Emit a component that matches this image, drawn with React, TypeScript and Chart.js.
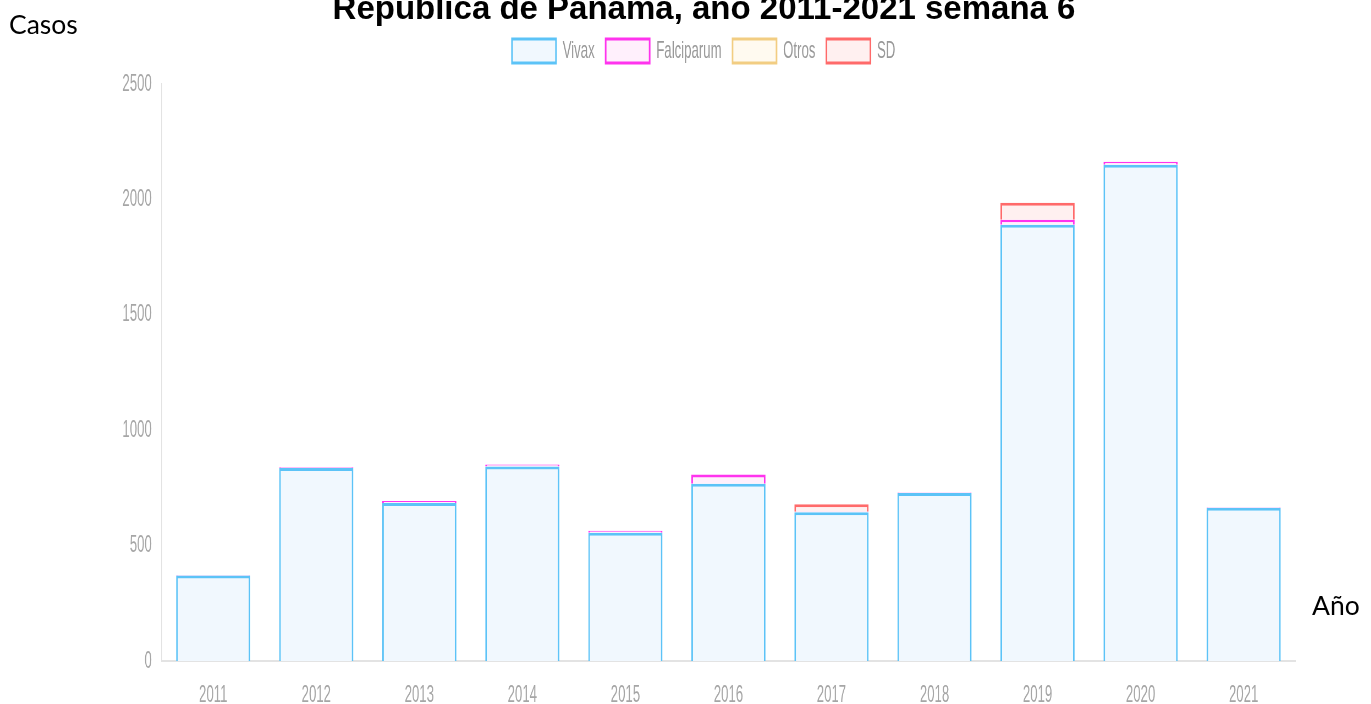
import React, { useEffect, useRef } from "react";
import { Chart, registerables } from "chart.js";

Chart.register(...registerables);

const years = ["2011", "2012", "2013", "2014", "2015", "2016", "2017", "2018", "2019", "2020", "2021"];
const vivax = [370, 836, 685, 843, 556, 768, 644, 728, 1890, 2150, 664];
const falciparum = [3, 3, 8, 8, 8, 40, 3, 2, 22, 13, 2];
const otros = [0, 0, 0, 0, 0, 0, 0, 0, 0, 0, 0];
const sd = [0, 0, 0, 0, 0, 0, 32, 0, 73, 0, 0];

const titleText = "República de Panamá, año 2011-2021 semana 6";
const yAxisText = "Casos";
const xAxisText = "Año";

const SX = 1.1;
const SY = 2;
const W = 1371 / SX;
const H = 704 / SY;

const legendPad = {
  id: "legendPad",
  afterInit(chart: any) {
    const l = chart.legend;
    if (!l) return;
    const orig = l.fit.bind(l);
    l.fit = () => {
      orig();
      l.height += 0.5;
    };
  },
};

export default function App() {
  const ref = useRef<HTMLCanvasElement | null>(null);

  useEffect(() => {
    if (!ref.current) return;
    Chart.defaults.font.family = "'Liberation Sans', Arial, sans-serif";
    const chart = new Chart(ref.current, {
      type: "bar",
      data: {
        labels: years,
        datasets: [
          { label: "Vivax", data: vivax, backgroundColor: "#f1f8fe", borderColor: "#5cc3f7", borderWidth: 1.5 },
          { label: "Falciparum", data: falciparum, backgroundColor: "#fff0fc", borderColor: "#ff33ee", borderWidth: 1.5 },
          { label: "Otros", data: otros, backgroundColor: "#fffaf0", borderColor: "#f2cd82", borderWidth: 1.5 },
          { label: "SD", data: sd, backgroundColor: "#fff0f0", borderColor: "#ff6a6a", borderWidth: 1.5 },
        ],
      },
      plugins: [legendPad],
      options: {
        animation: false,
        responsive: true,
        maintainAspectRatio: false,
        devicePixelRatio: 2,
        layout: { padding: { top: 9.5, left: 102, right: 69, bottom: 0 } },
        plugins: {
          legend: {
            position: "top",
            labels: { color: "#999", font: { size: 12 }, boxWidth: 40, padding: 10 },
          },
          tooltip: { enabled: false },
        },
        scales: {
          x: {
            stacked: true,
            grid: { display: false },
            border: { display: true, color: "#e3e3e3" },
            ticks: { color: "#a6a6a6", padding: 2, font: { size: 12 } },
            afterFit: (s: any) => { s.height = 21.5; },
          },
          y: {
            stacked: true,
            min: 0,
            max: 2500,
            grid: { display: false },
            border: { display: true, color: "#e3e3e3" },
            ticks: {
              stepSize: 500,
              color: "#a6a6a6",
              padding: 1,
              font: { size: 12 },
              callback: (v: any) => String(v),
            },
            afterFit: (s: any) => { s.width = 45; },
          },
        },
      },
    });
    return () => chart.destroy();
  }, []);

  return (
    <div style={{ position: "fixed", left: 0, top: 0, width: 1371, height: 704, overflow: "hidden", background: "#fff" }}>
      <div
        style={{
          position: "absolute",
          left: 0,
          top: 0,
          width: W,
          height: H,
          transform: `scale(${SX}, ${SY})`,
          transformOrigin: "0 0",
        }}
      >
        <canvas ref={ref} />
      </div>
      <div
        style={{
          position: "absolute",
          left: 0,
          width: 1408,
          top: -8,
          textAlign: "center",
          fontFamily: "'Liberation Sans', Arial, sans-serif",
          fontWeight: "bold",
          fontSize: 33,
          lineHeight: "32px",
          color: "#000",
          whiteSpace: "nowrap",
        }}
      >
        {titleText}
      </div>
      <div
        style={{
          position: "absolute",
          left: 9,
          top: 9,
          fontFamily: "Lato, 'Open Sans', sans-serif",
          fontSize: 26.5,
          lineHeight: "30px",
          color: "#000",
        }}
      >
        {yAxisText}
      </div>
      <div
        style={{
          position: "absolute",
          left: 1312,
          top: 590,
          fontFamily: "Lato, 'Open Sans', sans-serif",
          fontSize: 26.5,
          lineHeight: "30px",
          color: "#000",
        }}
      >
        {xAxisText}
      </div>
    </div>
  );
}
